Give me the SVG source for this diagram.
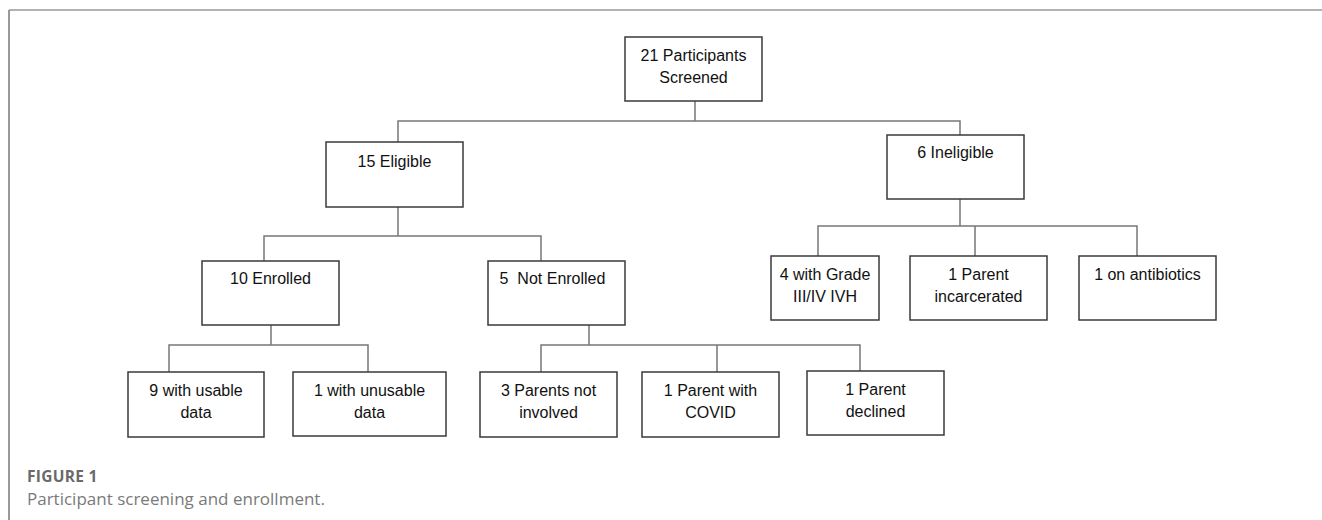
<svg xmlns="http://www.w3.org/2000/svg" width="1322" height="520" viewBox="0 0 1322 520">
<style>
.box{fill:#fff;stroke:#3a3a3a;stroke-width:1.5}
.t{font-family:"Liberation Sans",Arial,sans-serif;font-size:16px;fill:#111;text-anchor:middle}
.c{fill:none;stroke:#777;stroke-width:1.5}
.cap1{font-family:"Open Sans","Liberation Sans",sans-serif;font-size:15.5px;font-weight:bold;fill:#6a6a6a;letter-spacing:0.3px}
.cap2{font-family:"Open Sans","Liberation Sans",sans-serif;font-size:17px;fill:#7a7a7a}
</style>
<rect width="1322" height="520" fill="#fff"/>
<g id="frame">
<line x1="9" y1="10" x2="1322" y2="10" stroke="#999" stroke-width="1.5"/>
<line x1="9" y1="10" x2="9" y2="520" stroke="#777" stroke-width="1.5"/>
</g>
<g id="connectors">
<path class="c" d="M695 101V121M398 142V121H960V135"/>
<path class="c" d="M398 207V236M264 261V236H541V261"/>
<path class="c" d="M271 325V345M169 372V345H368V372"/>
<path class="c" d="M589 325V345M541 372V345H860V371M717 345V372"/>
<path class="c" d="M960 199V226M818 256V226H1137V256M975 226V256"/>
</g>
<g id="n_screened"><rect class="box" x="625" y="37" width="137" height="64"/><text class="t" x="693.5" y="61">21 Participants</text><text class="t" x="693.5" y="83">Screened</text></g>
<g id="n_eligible"><rect class="box" x="326" y="142" width="137" height="65"/><text class="t" x="394.5" y="167">15 Eligible</text></g>
<g id="n_ineligible"><rect class="box" x="887" y="135" width="137" height="64"/><text class="t" x="955.5" y="158">6 Ineligible</text></g>
<g id="n_enrolled"><rect class="box" x="202" y="261" width="137" height="64"/><text class="t" x="270.5" y="284">10 Enrolled</text></g>
<g id="n_notenrolled"><rect class="box" x="488" y="261" width="137" height="64"/><text class="t" x="552.5" y="284" xml:space="preserve">5  Not Enrolled</text></g>
<g id="n_grade"><rect class="box" x="771" y="256" width="108" height="64"/><text class="t" x="825" y="280">4 with Grade</text><text class="t" x="825" y="302">III/IV IVH</text></g>
<g id="n_incarc"><rect class="box" x="910" y="256" width="137" height="64"/><text class="t" x="978.5" y="280">1 Parent</text><text class="t" x="978.5" y="302">incarcerated</text></g>
<g id="n_antib"><rect class="box" x="1079" y="256" width="137" height="64"/><text class="t" x="1147.5" y="280">1 on antibiotics</text></g>
<g id="n_usable"><rect class="box" x="128" y="372" width="136" height="65"/><text class="t" x="196" y="396">9 with usable</text><text class="t" x="196" y="418">data</text></g>
<g id="n_unusable"><rect class="box" x="293" y="372" width="153" height="64"/><text class="t" x="369.5" y="396">1 with unusable</text><text class="t" x="369.5" y="418">data</text></g>
<g id="n_notinv"><rect class="box" x="480" y="372" width="137" height="65"/><text class="t" x="548.5" y="396">3 Parents not</text><text class="t" x="548.5" y="418">involved</text></g>
<g id="n_covid"><rect class="box" x="642" y="372" width="137" height="65"/><text class="t" x="710.5" y="396">1 Parent with</text><text class="t" x="710.5" y="418">COVID</text></g>
<g id="n_declined"><rect class="box" x="807" y="371" width="137" height="64"/><text class="t" x="875.5" y="395">1 Parent</text><text class="t" x="875.5" y="417">declined</text></g>
<g id="caption">
<text class="cap1" x="27" y="482">FIGURE 1</text>
<text class="cap2" x="27" y="505">Participant screening and enrollment.</text>
</g>
</svg>
